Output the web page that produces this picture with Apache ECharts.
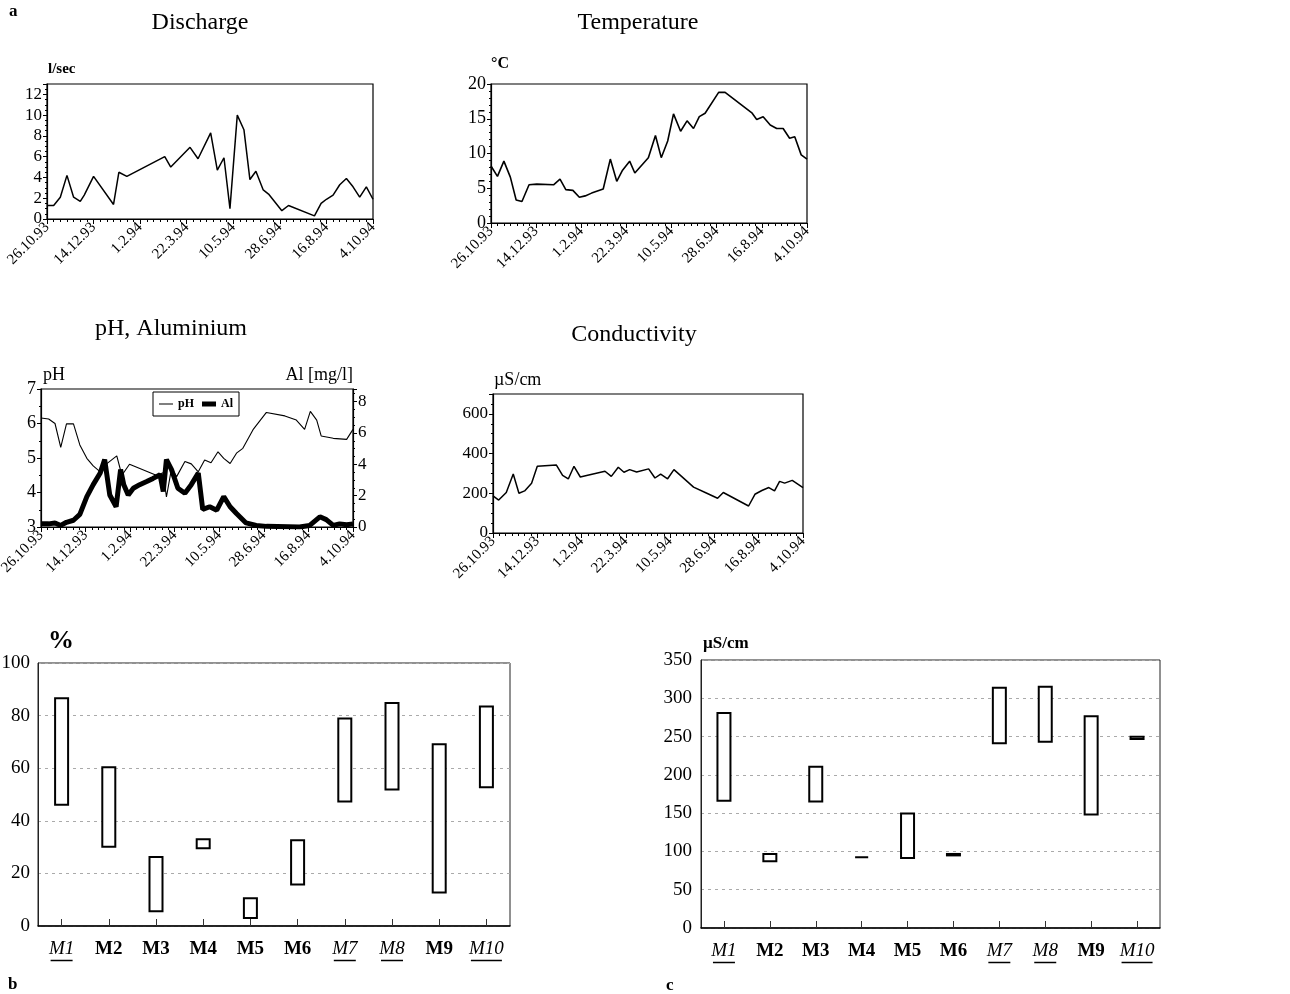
<!DOCTYPE html>
<html>
<head>
<meta charset="utf-8">
<script src="https://cdn.jsdelivr.net/npm/echarts@6/dist/echarts.min.js"></script>
<style>
html,body{margin:0;padding:0;background:#fff;}
#chart{width:1290px;height:994px;}
</style>
</head>
<body>
<div id="chart"></div>
<script>
// ---------- data ----------
const dateLabels = ['26.10.93','14.12.93','1.2.94','22.3.94','10.5.94','28.6.94','16.8.94','4.10.94'];

// x = weeks since 26.10.93
const dischargeWeeks = [0,1,2,3,4,5,5.6,7,10,10.8,12,17.7,18.6,21.5,22.7,24.6,25.6,26.6,27.5,28.6,29.6,30.5,31.4,32.5,33.3,35.3,36.3,40.2,41.2,42,43,44,45,46,47,48,49];
const dischargeValues = [1.3,1.3,2.1,4.2,2.1,1.7,2.3,4.1,1.4,4.5,4.1,6.0,5.0,6.9,5.8,8.3,4.7,5.9,1.0,10.0,8.6,3.8,4.6,2.8,2.4,0.8,1.3,0.3,1.5,1.9,2.3,3.3,3.9,3.1,2.1,3.1,1.9];

const tempWeeks = [0,1,2,3,3.9,4.8,5.9,7.1,9.7,10.7,11.6,12.7,13.7,14.6,15.6,17.4,18.5,19.5,20.4,21.5,22.3,24.4,25.5,26.4,27.4,28.3,29.4,30.4,31.4,32.3,33.2,35.3,36.3,40.5,41.2,42.2,43.3,44.3,45.3,46.3,47.1,48.1,49];
const tempValues = [8.2,6.7,8.9,6.6,3.3,3.1,5.5,5.6,5.5,6.3,4.8,4.7,3.7,3.9,4.3,4.9,9.2,6.0,7.6,8.9,7.2,9.4,12.6,9.4,11.8,15.7,13.2,14.7,13.6,15.3,15.8,18.8,18.8,15.8,14.9,15.3,14.1,13.6,13.6,12.2,12.4,9.8,9.2];

const phWeeks = [0,1.2,2.2,3.1,4,5.1,6.1,7.2,8.2,9.3,10.3,11.9,12.7,13.9,18.1,19.2,19.7,20.5,21.3,22.6,23.6,24.7,25.7,26.7,27.8,28.7,29.7,30.7,31.7,33.3,35.4,38.3,40.1,41.4,42.3,43.3,44,45.9,48,49];
const phValues = [6.16,6.13,6.0,5.31,5.99,5.99,5.38,4.99,4.77,4.6,4.83,5.06,4.5,4.82,4.5,4.57,3.87,4.7,4.46,4.9,4.83,4.6,4.94,4.86,5.18,4.99,4.84,5.14,5.28,5.82,6.32,6.22,6.1,5.83,6.35,6.1,5.64,5.57,5.54,5.83];

const alWeeks = [0,1.2,2.2,3.1,4,5.1,6.1,7.2,8.2,9.3,10,10.8,11.8,12.5,13,13.7,14.5,15.5,16.6,17.6,18.7,19.2,19.7,20.5,21.5,22.6,23.6,24.7,25.4,26.5,27.6,28.7,29.7,30.7,32.2,33.8,35.4,40.6,42.2,43.8,44.8,45.9,46.9,48,49];
const alValues = [0.2,0.2,0.26,0.1,0.3,0.43,0.8,1.94,2.7,3.44,4.3,2.04,1.29,3.66,2.7,2.04,2.47,2.7,2.9,3.1,3.33,2.26,4.3,3.66,2.47,2.15,2.7,3.44,1.12,1.29,1.07,1.94,1.29,0.86,0.26,0.1,0.04,0.0,0.1,0.65,0.47,0.1,0.2,0.15,0.2];

const condWeeks = [0,0.9,2.1,3.2,4.1,5,6.1,7,10,11,11.9,12.8,13.8,14.8,17.7,18.7,19.8,20.7,21.6,22.7,24.6,25.6,26.5,27.6,28.6,29.8,31.7,33.8,35.5,36.4,40.4,41.4,42.5,43.6,44.5,45.3,46.1,47.3,49];
const condValues = [187,166,204,297,200,212,251,336,343,290,272,336,282,290,311,285,331,306,319,307,323,277,297,273,319,285,231,200,175,204,136,195,214,229,212,260,251,265,229];

const stations = ['M1','M2','M3','M4','M5','M6','M7','M8','M9','M10'];
const italicStations = ['M1','M7','M8','M10'];
const pctLow  = [45.7,29.8,5.2,29.2,2.7,15.4,47,51.5,12.4,52.4];
const pctHigh = [87,60.7,26.6,33.4,10.9,33,79.3,85.2,69.5,83.8];
const condLow  = [165,86,164,91,90,93.5,240,242,147,245.6];
const condHigh = [282,98,212,93.5,151,98,315,316.5,278,251];

// ---------- helpers ----------
const FF = 'Liberation Serif';
const zip = (xs, ys) => xs.map((x, i) => [x, ys[i]]);
const diff = (hi, lo) => hi.map((h, i) => +(h - lo[i]).toFixed(2));

function timeX(gi) {
  return {
    type: 'value', gridIndex: gi, min: 0, max: 49, interval: 7,
    axisLine: { show: true, lineStyle: { color: '#000', width: 1.2 } },
    axisTick: { show: true, length: 5, lineStyle: { color: '#000' } },
    minorTick: { show: true, splitNumber: 7, length: 3, lineStyle: { color: '#000' } },
    splitLine: { show: false },
    axisLabel: { rotate: 45, fontFamily: FF, fontSize: 15, color: '#000', margin: 6,
      formatter: v => dateLabels[Math.round(v / 7)] || '' }
  };
}
function valY(gi, min, max, interval, minorSplit, fontSize, extra) {
  return Object.assign({
    type: 'value', gridIndex: gi, min, max, interval,
    axisLine: { show: true, lineStyle: { color: '#000', width: 1.2 } },
    axisTick: { show: true, length: 4, lineStyle: { color: '#000' } },
    minorTick: { show: true, splitNumber: minorSplit, length: 2, lineStyle: { color: '#000' } },
    splitLine: { show: false },
    axisLabel: { fontFamily: FF, fontSize, color: '#000', margin: 5,
      formatter: v => {
        const k = (v - min) / interval;
        return Math.abs(k - Math.round(k)) < 1e-6 ? String(v) : '';
      } }
  }, extra || {});
}
function lineSeries(xi, yi, data, width, name) {
  return { type: 'line', name, xAxisIndex: xi, yAxisIndex: yi, data, showSymbol: false, symbol: 'none',
    lineStyle: { color: '#000', width }, itemStyle: { color: '#000' }, animation: false, silent: true };
}
function stationAxis(gi) {
  return {
    type: 'category', gridIndex: gi, data: stations,
    axisLine: { show: true, lineStyle: { color: '#000', width: 1.5 } },
    axisTick: { show: true, interval: 0, alignWithLabel: true, inside: true, length: 7, lineStyle: { color: '#333' } },
    axisLabel: {
      interval: 0, margin: 13, color: '#000',
      formatter: v => italicStations.includes(v) ? `{it|${v}}\n{${v === 'M10' ? 'ulw' : 'ul'}| }` : `{b|${v}}`,
      rich: {
        it: { fontFamily: FF, fontStyle: 'italic', fontSize: 19, color: '#000', lineHeight: 20 },
        b: { fontFamily: FF, fontWeight: 'bold', fontSize: 19, color: '#000', lineHeight: 20 },
        ul: { width: 22, height: 1.5, lineHeight: 3, fontSize: 1, backgroundColor: '#000' },
        ulw: { width: 31, height: 1.5, lineHeight: 3, fontSize: 1, backgroundColor: '#000' }
      }
    }
  };
}
function rangeY(gi, max, interval, margin) {
  return {
    type: 'value', gridIndex: gi, min: 0, max, interval,
    axisLine: { show: true, lineStyle: { color: '#222', width: 1 } },
    axisTick: { show: false },
    splitLine: { show: true, lineStyle: { color: '#aaa', type: [3, 4], width: 1 } },
    axisLabel: { fontFamily: FF, fontSize: 19, color: '#000', margin }
  };
}
function rangeSeries(xi, lows, highs) {
  return [
    { type: 'bar', xAxisIndex: xi, yAxisIndex: xi, stack: 'r' + xi, data: lows, barWidth: 15,
      itemStyle: { color: 'transparent' }, silent: true, animation: false },
    { type: 'bar', xAxisIndex: xi, yAxisIndex: xi, stack: 'r' + xi, data: diff(highs, lows), barWidth: 15,
      itemStyle: { color: '#fff', borderColor: '#000', borderWidth: 2 }, silent: true, animation: false }
  ];
}
function txt(x, y, text, size, opts) {
  return { type: 'text', x, y, silent: true,
    style: Object.assign({ text, font: `${(opts && opts.weight) || 'normal'} ${size}px "${FF}"`, fill: '#000',
      textAlign: (opts && opts.align) || 'left', textVerticalAlign: 'middle' }, (opts && opts.style) || {}) };
}

// ---------- chart ----------
const chart = echarts.init(document.getElementById('chart'), null, { renderer: 'canvas' });
const gridBox = { show: true, borderColor: '#000', borderWidth: 1.2, backgroundColor: 'transparent', containLabel: false, outerBoundsMode: 'none' };

chart.setOption({
  backgroundColor: '#fff',
  animation: false,
  grid: [
    Object.assign({ left: 47, top: 84, width: 326, height: 135 }, gridBox),
    Object.assign({ left: 491, top: 84, width: 316, height: 139 }, gridBox),
    Object.assign({ left: 41, top: 389, width: 312, height: 138 }, gridBox),
    Object.assign({ left: 493, top: 394, width: 310, height: 139 }, gridBox),
    { left: 38, top: 663, width: 472, height: 263, show: true, borderColor: '#222', borderWidth: 1, containLabel: false, outerBoundsMode: 'none' },
    { left: 701, top: 660, width: 459, height: 268, show: true, borderColor: '#222', borderWidth: 1, containLabel: false, outerBoundsMode: 'none' }
  ],
  xAxis: [timeX(0), timeX(1), timeX(2), timeX(3), stationAxis(4), stationAxis(5)],
  yAxis: [
    valY(0, 0, 13, 2, 4, 17, { axisLabel: { fontFamily: FF, fontSize: 17, color: '#000', margin: 5, formatter: v => (v % 2 === 0 && v <= 12) ? String(v) : '' } }),
    valY(1, 0, 20, 5, 5, 18),
    valY(2, 3, 7, 1, 2, 18),
    valY(3, 0, 700, 200, 4, 17, { axisLabel: { fontFamily: FF, fontSize: 17, color: '#000', margin: 5, formatter: v => (v % 200 === 0 && v <= 600) ? String(v) : '' } }),
    rangeY(4, 100, 20, 8),
    rangeY(5, 350, 50, 9),
    valY(2, 0, 8.8, 2, 4, 17, { position: 'right', axisLabel: { fontFamily: FF, fontSize: 17, color: '#000', margin: 5, formatter: v => (v % 2 === 0 && v <= 8) ? String(v) : '' } })
  ],
  legend: {
    data: [
      { name: 'pH', icon: 'path://M0,0L0.01,0L0,0.01Z M0,3.6H14V4.6H0Z M0,8L0.01,8L0,7.99Z' },
      { name: 'Al', icon: 'path://M0,0L0.01,0L0,0.01Z M0,1.5H14V6.5H0Z M0,8L0.01,8L0,7.99Z' }
    ],
    left: 153, top: 392, itemWidth: 14, itemHeight: 8, itemGap: 8,
    borderColor: '#000', borderWidth: 1, padding: [6, 6, 6, 6], backgroundColor: '#fff',
    textStyle: { fontFamily: FF, fontSize: 12, fontWeight: 'bold', color: '#000' },
    selectedMode: false
  },
  series: [
    lineSeries(0, 0, zip(dischargeWeeks, dischargeValues), 1.5, 'Discharge'),
    lineSeries(1, 1, zip(tempWeeks, tempValues), 1.6, 'Temperature'),
    lineSeries(2, 2, zip(phWeeks, phValues), 1.1, 'pH'),
    lineSeries(2, 6, zip(alWeeks, alValues), 5, 'Al'),
    lineSeries(3, 3, zip(condWeeks, condValues), 1.5, 'Conductivity'),
    ...rangeSeries(4, pctLow, pctHigh),
    ...rangeSeries(5, condLow, condHigh)
  ],
  graphic: [
    txt(9, 12, 'a', 17, { weight: 'bold' }),
    txt(200, 23, 'Discharge', 24, { align: 'center' }),
    txt(638, 23, 'Temperature', 24, { align: 'center' }),
    txt(171, 329, 'pH, Aluminium', 24, { align: 'center' }),
    txt(634, 335, 'Conductivity', 24, { align: 'center' }),
    txt(48, 69, 'l/sec', 15, { weight: 'bold' }),
    txt(491, 64, '°C', 16, { weight: 'bold' }),
    txt(43, 375, 'pH', 18),
    txt(353, 375, 'Al [mg/l]', 18, { align: 'right' }),
    txt(494, 380, 'µS/cm', 18),
    txt(48, 641, '%', 26, { weight: 'bold' }),
    txt(703, 644, 'µS/cm', 17, { weight: 'bold' }),
    txt(8, 985, 'b', 17, { weight: 'bold' }),
    txt(666, 986, 'c', 17, { weight: 'bold' })
  ]
});
</script>
</body>
</html>
